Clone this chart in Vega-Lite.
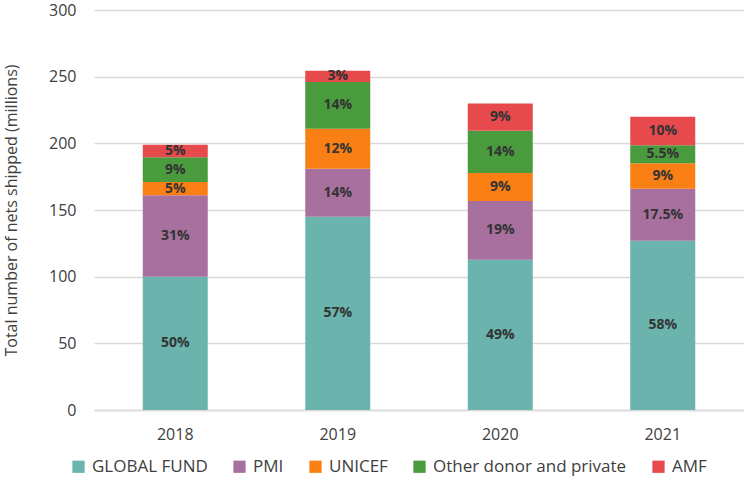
{
  "$schema": "https://vega.github.io/schema/vega-lite/v6.json",
  "width": 650,
  "height": 400,
  "autosize": {"type": "none"},
  "padding": {"left": 94, "top": 10, "right": 0, "bottom": 74},
  "background": "white",
  "config": {
    "font": "Open Sans",
    "view": {"stroke": null}
  },
  "data": {
    "values": [
      {"year": "2018", "source": "GLOBAL FUND", "order": 1, "value": 100, "label": "50%"},
      {"year": "2018", "source": "PMI", "order": 2, "value": 61, "label": "31%"},
      {"year": "2018", "source": "UNICEF", "order": 3, "value": 10, "label": "5%"},
      {"year": "2018", "source": "Other donor and private", "order": 4, "value": 18.5, "label": "9%"},
      {"year": "2018", "source": "AMF", "order": 5, "value": 9.5, "label": "5%"},
      {"year": "2019", "source": "GLOBAL FUND", "order": 1, "value": 145, "label": "57%"},
      {"year": "2019", "source": "PMI", "order": 2, "value": 36, "label": "14%"},
      {"year": "2019", "source": "UNICEF", "order": 3, "value": 30, "label": "12%"},
      {"year": "2019", "source": "Other donor and private", "order": 4, "value": 35, "label": "14%"},
      {"year": "2019", "source": "AMF", "order": 5, "value": 8.5, "label": "3%"},
      {"year": "2020", "source": "GLOBAL FUND", "order": 1, "value": 112.7, "label": "49%"},
      {"year": "2020", "source": "PMI", "order": 2, "value": 44, "label": "19%"},
      {"year": "2020", "source": "UNICEF", "order": 3, "value": 21, "label": "9%"},
      {"year": "2020", "source": "Other donor and private", "order": 4, "value": 31.7, "label": "14%"},
      {"year": "2020", "source": "AMF", "order": 5, "value": 20.5, "label": "9%"},
      {"year": "2021", "source": "GLOBAL FUND", "order": 1, "value": 127, "label": "58%"},
      {"year": "2021", "source": "PMI", "order": 2, "value": 39, "label": "17.5%"},
      {"year": "2021", "source": "UNICEF", "order": 3, "value": 19, "label": "9%"},
      {"year": "2021", "source": "Other donor and private", "order": 4, "value": 13.5, "label": "5.5%"},
      {"year": "2021", "source": "AMF", "order": 5, "value": 21.5, "label": "10%"}
    ]
  },
  "transform": [
    {"stack": "value", "groupby": ["year"], "sort": [{"field": "order", "order": "ascending"}], "as": ["y0", "y1"]},
    {"calculate": "(datum.y0 + datum.y1) / 2", "as": "ymid"}
  ],
  "encoding": {
    "x": {
      "field": "year",
      "type": "nominal",
      "scale": {"paddingInner": 0.6, "paddingOuter": 0.3},
      "axis": {
        "title": null,
        "labelAngle": 0,
        "labelFontSize": 16,
        "labelColor": "#404040",
        "labelPadding": 16,
        "ticks": false,
        "domainColor": "#d9d9d9",
        "domainWidth": 1.3
      }
    }
  },
  "layer": [
    {
      "mark": {"type": "bar", "stroke": null},
      "encoding": {
        "y": {
          "field": "y0",
          "type": "quantitative",
          "scale": {"domain": [0, 300]},
          "axis": {
            "title": "Total number of nets shipped (millions)",
            "titleFontSize": 16,
            "titleFontWeight": "normal",
            "titleColor": "#404040",
            "titlePadding": 29,
            "values": [0, 50, 100, 150, 200, 250, 300],
            "labelFontSize": 16,
            "labelColor": "#404040",
            "labelPadding": 18,
            "ticks": false,
            "domain": false,
            "gridColor": "#d9d9d9",
            "gridWidth": 1.3
          }
        },
        "y2": {"field": "y1"},
        "color": {
          "field": "source",
          "type": "nominal",
          "scale": {
            "domain": ["GLOBAL FUND", "PMI", "UNICEF", "Other donor and private", "AMF"],
            "range": ["#6bb4ae", "#a8709f", "#fa7f14", "#4a9b3e", "#e64a4c"]
          },
          "legend": {
            "title": null,
            "orient": "none",
            "direction": "horizontal",
            "legendX": -24,
            "legendY": 448,
            "symbolType": "square",
            "symbolSize": 150,
            "symbolStrokeWidth": 0,
            "labelFontSize": 17,
            "labelColor": "#404040",
            "labelOffset": 5,
            "labelLimit": 0,
            "columnPadding": 23
          }
        }
      }
    },
    {
      "mark": {"type": "text", "fontSize": 14, "fontWeight": "bold", "color": "#333333", "baseline": "middle"},
      "encoding": {
        "y": {"field": "ymid", "type": "quantitative"},
        "text": {"field": "label", "type": "nominal"}
      }
    }
  ]
}
